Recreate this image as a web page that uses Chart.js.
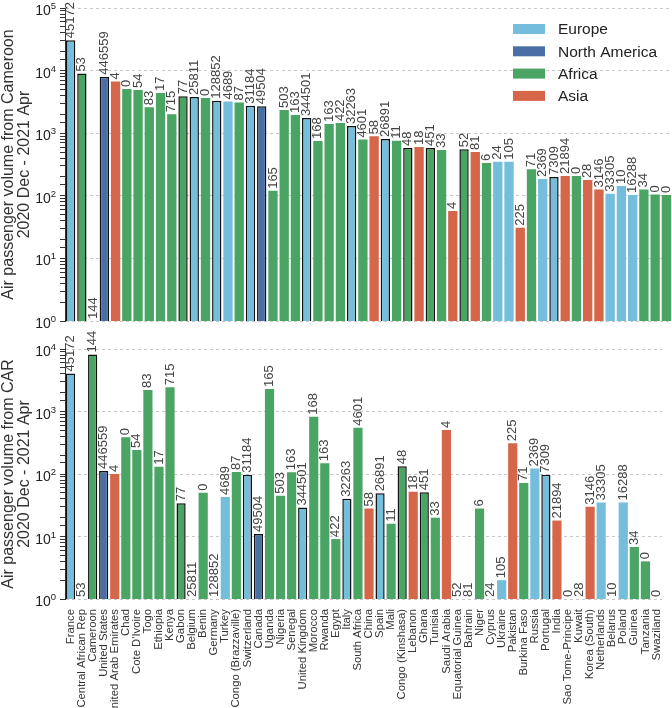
<!DOCTYPE html>
<html lang="en">
<head>
<meta charset="UTF-8">
<title>Air passenger volume from Cameroon and CAR</title>
<script src="https://cdn.jsdelivr.net/npm/chart.js"></script>
<style>
  html, body { margin: 0; padding: 0; background: #fff; }
  #wrap { position: relative; width: 672px; height: 708px; overflow: hidden; }
  .panel { position: absolute; left: 0; width: 672px; }
  #top { top: 0; height: 330px; }
  #bottom { top: 322px; height: 386px; }
</style>
</head>
<body>
<div id="wrap">
  <div class="panel" id="top"><canvas id="chartCameroon"></canvas></div>
  <div class="panel" id="bottom"><canvas id="chartCar"></canvas></div>
</div>
<script>
// destination countries, in the order of the bars
const countries = ['France', 'Central African Rep', 'Cameroon', 'United States', 'United Arab Emirates', 'Chad',
  "Cote D'Ivoire", 'Togo', 'Ethiopia', 'Kenya', 'Gabon', 'Belgium', 'Benin', 'Germany', 'Turkey',
  'Congo (Brazzaville)', 'Switzerland', 'Canada', 'Uganda', 'Nigeria', 'Senegal', 'United Kingdom',
  'Morocco', 'Rwanda', 'Egypt', 'Italy', 'South Africa', 'China', 'Spain', 'Mali', 'Congo (Kinshasa)',
  'Lebanon', 'Ghana', 'Tunisia', 'Saudi Arabia', 'Equatorial Guinea', 'Bahrain', 'Niger', 'Cyprus',
  'Ukraine', 'Pakistan', 'Burkina Faso', 'Russia', 'Portugal', 'India', 'Sao Tome-Principe', 'Kuwait',
  'Korea (South)', 'Netherlands', 'Belarus', 'Poland', 'Guinea', 'Tanzania', 'Swaziland'];

const regions = ['Europe', 'Africa', 'Africa', 'North America', 'Asia', 'Africa', 'Africa', 'Africa', 'Africa',
  'Africa', 'Africa', 'Europe', 'Africa', 'Europe', 'Europe', 'Africa', 'Europe', 'North America', 'Africa',
  'Africa', 'Africa', 'Europe', 'Africa', 'Africa', 'Africa', 'Europe', 'Africa', 'Asia', 'Europe', 'Africa',
  'Africa', 'Asia', 'Africa', 'Africa', 'Asia', 'Africa', 'Asia', 'Africa', 'Europe', 'Europe', 'Asia',
  'Africa', 'Europe', 'Europe', 'Asia', 'Africa', 'Asia', 'Asia', 'Europe', 'Europe', 'Europe', 'Africa',
  'Africa', 'Africa'];

// bars drawn with a black outline
const outlinedCountries = ['France', 'Central African Rep', 'Cameroon', 'United States', 'Gabon', 'Belgium',
  'Germany', 'Switzerland', 'Canada', 'United Kingdom', 'Italy', 'Spain', 'Congo (Kinshasa)', 'Ghana',
  'Equatorial Guinea', 'Portugal'];

// number written above each bar
const barNotes = [45172, 53, 144, 446559, 4, 0, 54, 83, 17, 715, 77, 25811, 0, 128852, 4689, 87, 31184, 49504,
  165, 503, 163, 344501, 168, 163, 422, 32263, 4601, 58, 26891, 11, 48, 18, 451, 33, 4, 52, 81, 6, 24, 105,
  225, 71, 2369, 7309, 21894, 0, 28, 3146, 33305, 10, 16288, 34, 0, 0];

// passenger volume, 2020 Dec - 2021 Apr
const fromCameroon = [30500, 8950, 0, 8000, 6700, 5100, 4900, 2600, 4400, 2000, 3900, 3800, 3650, 3300, 3200,
  3100, 2750, 2700, 120, 2350, 1950, 1750, 750, 1400, 1450, 1300, 790, 890, 810, 760, 580, 600, 580, 540, 57,
  555, 500, 335, 350, 350, 31, 265, 185, 200, 207, 207, 178, 126, 108, 143, 103, 126, 105, 103];

const fromCar = [4070, 0, 8200, 112, 100, 387, 243, 2200, 131, 2440, 34, 0, 50, 0, 43, 108, 97, 11, 2290, 45,
  107, 29, 826, 149, 9.1, 40, 551, 28, 49, 16, 133, 52, 51, 20, 506, 0, 0, 28, 0, 2, 311, 72, 122, 97, 18, 0,
  0, 30, 35, 0, 35, 6.8, 4, 0];

const regionNames = ['Europe', 'North America', 'Africa', 'Asia'];
const regionColors = ['#74bddb', '#4a6fa5', '#4aa564', '#d6664a'];

const FONT = "'Liberation Sans', Arial, sans-serif";

function isDecade(v) {
  const e = Math.log10(v);
  return Math.abs(e - Math.round(e)) < 1e-9;
}

// writes the numbers vertically above the bars
const notesPlugin = {
  id: 'notes',
  afterDatasetsDraw(chart) {
    const ctx = chart.ctx;
    const meta = chart.getDatasetMeta(0);
    ctx.save();
    ctx.font = '13px ' + FONT;
    ctx.fillStyle = '#444';
    ctx.textAlign = 'left';
    ctx.textBaseline = 'middle';
    meta.data.forEach((bar, i) => {
      const v = chart.data.datasets[0].data[i];
      const y = v ? bar.y - 2 : chart.chartArea.bottom - 2;
      ctx.save();
      ctx.translate(bar.x, y);
      ctx.rotate(-Math.PI / 2);
      ctx.fillText(String(barNotes[i]), 0, 0);
      ctx.restore();
    });
    ctx.restore();
  }
};

// 10^n labels on the log axis, exponent raised
const decadePlugin = {
  id: 'decades',
  afterDraw(chart) {
    const scale = chart.scales.y;
    const ctx = chart.ctx;
    const xEnd = chart.chartArea.left - 9;
    ctx.save();
    ctx.fillStyle = '#222';
    ctx.textBaseline = 'alphabetic';
    scale.ticks.forEach(t => {
      if (!isDecade(t.value)) return;
      const y = scale.getPixelForValue(t.value);
      const exp = String(Math.round(Math.log10(t.value)));
      ctx.font = '9.5px ' + FONT;
      const ew = ctx.measureText(exp).width;
      ctx.textAlign = 'left';
      ctx.fillText(exp, xEnd - ew, y + 1);
      ctx.font = '14px ' + FONT;
      ctx.textAlign = 'right';
      ctx.fillText('10', xEnd - ew, y + 7);
    });
    ctx.restore();
  }
};

// region key in the upper right corner
const keyPlugin = {
  id: 'regionKey',
  afterDraw(chart, args, opts) {
    if (!opts.show) return;
    const ctx = chart.ctx;
    const x = chart.chartArea.right - 159;
    let y = chart.chartArea.top + 21;
    ctx.save();
    ctx.font = '15.5px ' + FONT;
    ctx.textBaseline = 'middle';
    regionNames.forEach((name, i) => {
      ctx.fillStyle = regionColors[i];
      ctx.fillRect(x, y - 5, 32, 10);
      ctx.fillStyle = '#222';
      ctx.fillText(name, x + 45, y + 1);
      y += 22.3;
    });
    ctx.restore();
  }
};

function makeChart(id, values, yMax, title, showX, pad, showKey) {
  const colors = regions.map(r => regionColors[regionNames.indexOf(r)]);
  const outline = countries.map(c => outlinedCountries.includes(c));
  const xAxis = {
    display: showX,
    grid: { display: false },
    border: { display: false },
    ticks: {
      autoSkip: false,
      minRotation: 90,
      maxRotation: 90,
      padding: 2,
      color: '#333',
      font: { family: FONT, size: 11.3 }
    }
  };
  if (showX) xAxis.afterFit = scale => { scale.height = 109; };
  return new Chart(document.getElementById(id), {
    type: 'bar',
    data: {
      labels: countries,
      datasets: [{
        data: values.map(v => v > 0 ? v : null),
        backgroundColor: colors,
        borderColor: outline.map(o => o ? '#111' : 'rgba(0,0,0,0)'),
        borderWidth: outline.map(o => o ? 1.5 : 0),
        barPercentage: 0.83,
        categoryPercentage: 1
      }]
    },
    options: {
      responsive: true,
      maintainAspectRatio: false,
      animation: false,
      layout: { padding: pad },
      plugins: {
        legend: { display: false },
        tooltip: { enabled: false },
        regionKey: { show: showKey }
      },
      scales: {
        x: xAxis,
        y: {
          type: 'logarithmic',
          min: 1,
          max: yMax,
          afterFit(scale) { scale.width = 65; },
          title: {
            display: true,
            text: title,
            color: '#333',
            padding: 0,
            font: { family: FONT, size: 16, lineHeight: 1.02 }
          },
          border: { display: true, color: '#333', width: 1, dash: [3, 3] },
          grid: {
            color: c => (c.tick && isDecade(c.tick.value)) ? '#c8c8c8' : 'rgba(0,0,0,0)',
            tickColor: '#333',
            tickWidth: 1,
            tickLength: 5,
            tickBorderDash: []
          },
          ticks: { display: false }
        }
      }
    },
    plugins: [notesPlugin, decadePlugin, keyPlugin]
  });
}

makeChart('chartCameroon', fromCameroon, 1e5,
  ['Air passenger volume from Cameroon', '2020 Dec - 2021 Apr'], false,
  { top: 8, right: 0, bottom: 9, left: 0 }, true);

makeChart('chartCar', fromCar, 1e4,
  ['Air passenger volume from CAR', '2020 Dec - 2021 Apr'], true,
  { top: 27, right: 0, bottom: 0, left: 0 }, false);
</script>
</body>
</html>
